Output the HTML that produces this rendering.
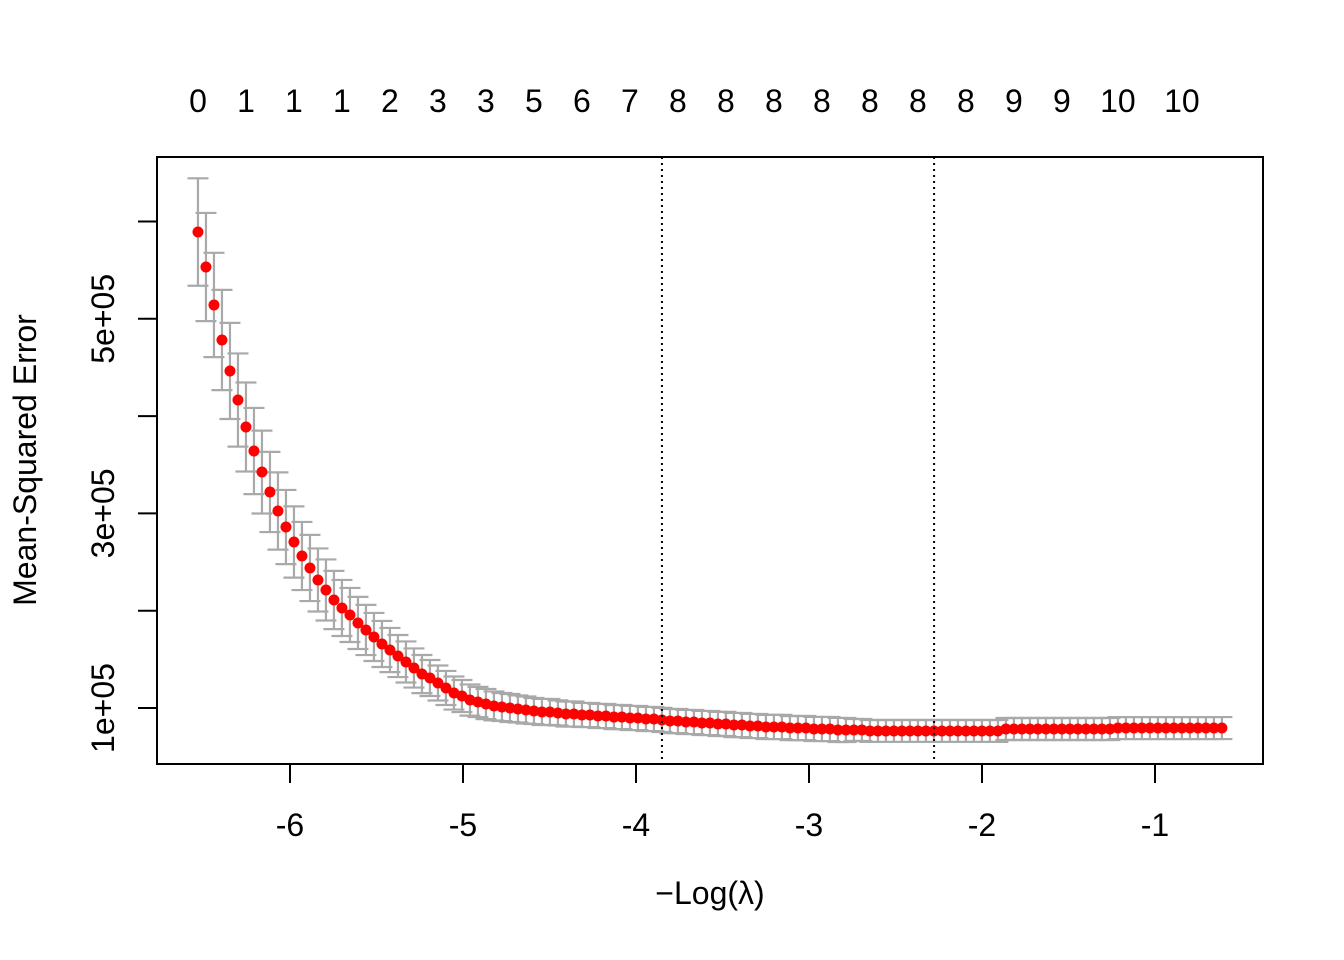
<!DOCTYPE html>
<html><head><meta charset="utf-8"><style>
html,body{margin:0;padding:0;background:#fff;}
svg{display:block;font-family:"Liberation Sans",Arial,sans-serif;}
</style></head><body>
<svg id="chart" width="1344" height="960" viewBox="0 0 1344 960" xmlns="http://www.w3.org/2000/svg"></svg>
<script>
// -log(lambda) sequence: first value and geometric step (glmnet lambda path)
const logLambdaFirst = -6.532;
const logLambdaStep = 0.04624;
// mean cross-validated error (thousands)
const mse = [589.2,553.2,514.2,478.2,446.4,416.5,388.8,364.1,342.5,322.0,302.5,286.0,270.6,256.2,243.9,231.6,221.3,211.0,202.8,195.6,187.4,180.2,173.0,165.8,159.6,153.4,147.3,141.1,134.9,130.8,125.7,120.6,115.4,112.3,108.2,
106.2,104.1,102.1,101.0,100.0,99.0,97.9,96.9,95.9,95.9,94.9,93.8,93.8,92.8,92.8,91.8,
91.8,90.7,90.7,89.7,89.7,88.7,88.7,87.7,
86.6,86.6,85.6,85.6,84.6,84.6,83.6,83.6,82.5,82.5,81.5,81.5,80.5,80.5,80.5,79.4,79.4,79.4,78.4,78.4,78.4,77.4,77.4,
77.4,77.4,76.4,76.4,76.4,76.4,76.4,76.4,76.4,76.4,76.4,76.4,76.4,76.4,76.4,76.4,76.4,76.4,76.4,
78.4,78.4,78.4,78.4,78.4,78.4,78.4,78.4,78.4,78.4,78.4,78.4,78.4,78.4,
79.4,79.4,79.4,79.4,79.4,79.4,79.4,79.4,79.4,79.4,79.4,79.4,79.4,79.4];
// standard error (thousands)
const se = [55.2,55.6,53.6,51.5,49.4,47.9,45.7,44.3,42.6,41.2,39.7,38.1,36.6,35.0,34.0,32.4,31.4,29.9,28.8,27.8,26.8,25.8,24.7,23.7,22.7,21.6,21.1,20.1,19.6,18.5,18.0,17.5,17.0,16.5,16.0,
15.5,15.5,14.9,14.4,14.4,13.9,13.9,13.4,13.4,13.4,12.9,12.9,12.9,12.4,12.4,12.4,
12.4,12.4,12.4,12.4,12.4,12.4,12.4,12.4,12.4,12.4,12.4,12.4,12.4,12.4,12.4,12.4,12.4,12.4,12.4,12.4,12.4,12.4,12.4,12.4,12.4,12.4,12.4,12.4,12.4,12.4,12.4,
11.3,11.3,11.3,11.3,11.3,11.3,11.3,11.3,11.3,11.3,11.3,11.3,11.3,11.3,11.3,11.3,11.3,11.3,11.3,11.3,11.3,11.3,11.3,11.3,11.3,11.3,11.3,11.3,11.3,11.3,11.3,11.3,11.3,11.3,11.3,11.3,11.3,11.3,11.3,11.3,11.3,11.3,11.3,11.3,11.3,11.3,11.3];
const nzeroIdx = [0,6,12,18,24,30,36,42,48,54,60,66,72,78,84,90,96,102,108,115,123];
const nzeroLabels = ["0","1","1","1","2","3","3","5","6","7","8","8","8","8","8","8","8","9","9","10","10"];
const xTicks = [-6,-5,-4,-3,-2,-1];
const yTicks = [100,200,300,400,500,600];
const yTickLabels = {100:"1e+05",300:"3e+05",500:"5e+05"};
const vlines = [-3.85,-2.277];

const NS="http://www.w3.org/2000/svg";
const svg=document.getElementById('chart');
const L=157,R=1263,T=157,B=764;
const FS=32;
const xs=v=>290+(v+6)*173;
const ys=v=>708-(v-100)*0.973;
function el(tag,attrs,parent){const e=document.createElementNS(NS,tag);for(const k in attrs)e.setAttribute(k,attrs[k]);(parent||svg).appendChild(e);return e;}

const xv=mse.map((_,i)=>logLambdaFirst+logLambdaStep*i);

const gBars=el('g',{stroke:'#a9a9a9','stroke-width':2.2,fill:'none'});


mse.forEach((m,i)=>{
  const x=xs(xv[i]),y1=ys(m+se[i]),y2=ys(m-se[i]);
  const p=el('path',{d:`M${x},${y1}V${y2}M${x-10.5},${y1}H${x+10.5}M${x-10.5},${y2}H${x+10.5}`},gBars);
  
  
});
const gPts=el('g',{fill:'#ff0000'});


mse.forEach((m,i)=>{
  const c=el('circle',{cx:xs(xv[i]),cy:ys(m),r:5.5},gPts);
  
  
});
vlines.forEach(v=>{
  const l=el('line',{x1:xs(v),x2:xs(v),y1:T,y2:B,stroke:'#000','stroke-width':2,'stroke-dasharray':'2,4'});
  
  
});
const box=el('rect',{x:L,y:T,width:R-L,height:B-T,fill:'none',stroke:'#000','stroke-width':2});


xTicks.forEach(v=>{
  const x=xs(v);
  const t=el('line',{x1:x,x2:x,y1:B,y2:B+19,stroke:'#000','stroke-width':2});
  
  
  const tx=el('text',{x:x,y:836,'font-size':FS,'text-anchor':'middle'});
  tx.textContent=String(v);
  
  
});
yTicks.forEach(v=>{
  const y=ys(v);
  const t=el('line',{x1:L-19,x2:L,y1:y,y2:y,stroke:'#000','stroke-width':2});
  
  
  if(yTickLabels[v]){
    const tx=el('text',{x:0,y:0,'font-size':FS,'text-anchor':'middle',transform:`translate(114,${y}) rotate(-90)`});
    tx.textContent=yTickLabels[v];
    
    
  }
});
nzeroIdx.forEach((idx,k)=>{
  const tx=el('text',{x:xs(xv[idx]),y:112,'font-size':FS,'text-anchor':'middle'});
  tx.textContent=nzeroLabels[k];
  
  
});
const yt=el('text',{x:0,y:0,'font-size':FS,'text-anchor':'middle',transform:'translate(36,460) rotate(-90)'});
yt.textContent='Mean-Squared Error';


const xt=el('text',{x:710,y:904,'font-size':FS,'text-anchor':'middle'});
xt.textContent='\u2212Log(\u03bb)';


</script>
</body></html>
